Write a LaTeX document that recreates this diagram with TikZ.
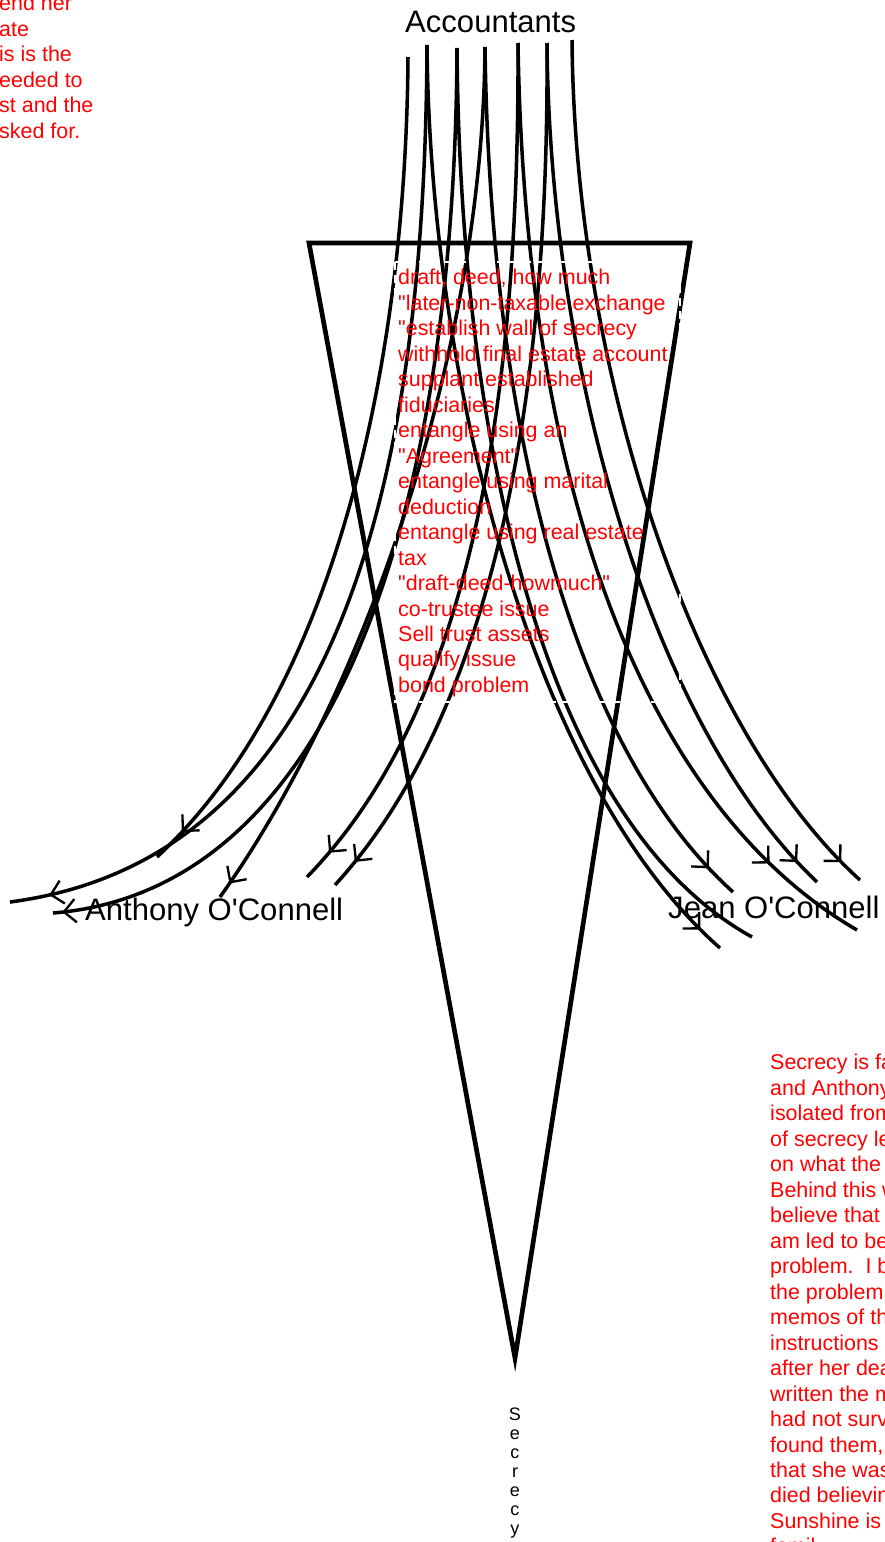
\documentclass[tikz,border=0pt]{standalone}
\usepackage{fontspec}
\setmainfont{Liberation Sans}[Ligatures=TeXOff]
\usepackage{tikz}
\usetikzlibrary{arrows.meta,decorations.markings}
\tikzstyle{funnel} = [draw, line width=4pt]
\tikzstyle{flow} = [draw, line width=3pt]
\tikzstyle{who} = [inner sep=0pt, font=\fontsize{26.5}{30}\selectfont]
\tikzstyle{memo} = [inner sep=0pt, align=left, text=red, font=\fontsize{18.3}{21.75}\selectfont]
\tikzset{barb/.style={postaction={decorate}, decoration={markings,
  mark=at position #1 with {\arrow{Straight Barb[length=10pt,width=20pt,line width=2pt]}}}}}

\begin{document}
\begin{tikzpicture}[x=0.3mm, y=0.3mm]
            \useasboundingbox (0,0) rectangle (885,-1542);
            \clip (0,0) rectangle (885,-1542);
                % names
                \node [who, anchor=base west] (acc) at (405,-32) {Accountants};
                \node [who, anchor=base west] (anthony) at (85,-920) {Anthony O'Connell};
                \node [who, anchor=base west] (jean) at (668,-918) {Jean O'Connell};
                % where the lines leave and land
                \coordinate (a1) at (408,-57);
                \coordinate (a2) at (427,-45);
                \coordinate (a3) at (457,-48);
                \coordinate (a4) at (485,-47);
                \coordinate (a5) at (518,-43);
                \coordinate (a6) at (547,-43);
                \coordinate (a7) at (572,-40);
                \coordinate (l1) at (157,-857);
                \coordinate (l2) at (10,-902);
                \coordinate (l3) at (53,-913);
                \coordinate (l4) at (220,-897);
                \coordinate (l5) at (307,-877);
                \coordinate (l6) at (335,-885);
                \coordinate (r1) at (720,-948);
                \coordinate (r2) at (752,-937);
                \coordinate (r3) at (733,-892);
                \coordinate (r4) at (857,-930);
                \coordinate (r5) at (817,-882);
                \coordinate (r6) at (860,-880);
                % to Anthony
                \path [flow, barb=-30pt] (a1) .. controls (406,-350) and (340,-687) .. (l1);
                \path [flow, barb=-34pt] (a2) .. controls (425,-500) and (330,-860) .. (l2);
                \path [flow, barb=-8pt] (a3) .. controls (455,-500) and (340,-890) .. (l3);
                \path [flow, barb=-14pt] (a4) .. controls (483,-350) and (365,-694) .. (l4);
                \path [flow, barb=-28pt] (a5) .. controls (520,-480) and (445,-735) .. (l5);
                \path [flow, barb=-26pt] (a6) .. controls (550,-480) and (464,-744) .. (l6);
                % to Jean
                \path [flow, barb=-23pt] (a2) .. controls (430,-380) and (532,-783) .. (r1);
                \path [flow] (a3) .. controls (460,-430) and (540,-820) .. (r2);
                \path [flow, barb=-29pt] (a4) .. controls (490,-420) and (570,-745) .. (r3);
                \path [flow, barb=-94pt] (a5) .. controls (525,-500) and (650,-810) .. (r4);
                \path [flow, barb=-24pt] (a6) .. controls (550,-380) and (656,-730) .. (r5);
                \path [flow, barb=-22pt] (a7) .. controls (575,-380) and (697,-733) .. (r6);
                % the funnel
                \path [funnel] (309,-243) -- (690,-243) -- (515,-1358) -- cycle;
                \path [draw=white, dash pattern=on 7pt off 4pt, line width=1.5pt] (395,-262) rectangle (680,-702);
                \node [inner sep=0pt, align=center, font=\fontsize{15.4}{16.2}\selectfont, anchor=north] (secrecy) at (515,-1408) {S\\e\\c\\r\\e\\c\\y};
                % red notes
                \node [memo, anchor=north west] (list) at (398,-269) {draft, deed, how much\\"later-non-taxable exchange\\"establish wall of secrecy\\withhold final estate account\\supplant established\\fiduciaries\\entangle using an\\"Agreement"\\entangle using marital\\deduction\\entangle using real estate\\tax\\"draft-deed-howmuch"\\co-trustee issue\\Sell trust assets\\qualify issue\\bond problem};
                \node [memo, anchor=north west] (note) at (-1,5) {end her\\ate\\is is the\\eeded to\\st and the\\sked for.};
                \node [memo, anchor=north west] (essay) at (770,-1054) {Secrecy is fa\\and Anthony\\isolated from\\of secrecy le\\on what the\\Behind this w\\believe that\\am led to be\\problem.\ \ I b\\the problem\\memos of th\\instructions\\after her dea\\written the m\\had not surv\\found them,\\that she was\\died believin\\Sunshine is\\famil};
            \end{tikzpicture}
\end{document}
